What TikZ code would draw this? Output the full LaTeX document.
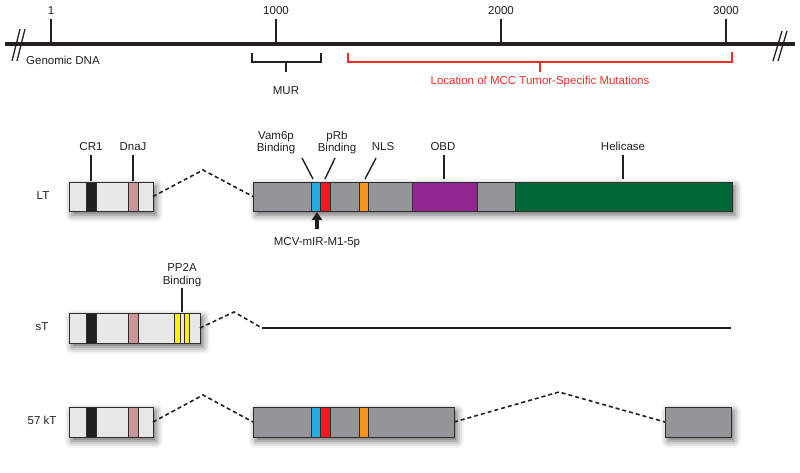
\documentclass[tikz,border=0pt]{standalone}
\usepackage{fontspec}
\setmainfont{Liberation Sans}
\usetikzlibrary{shadows.blur,arrows.meta}
\definecolor{ink}{RGB}{35,31,32}
\definecolor{lgray}{RGB}{231,231,232}
\definecolor{dgray}{RGB}{148,149,153}
\definecolor{pinkb}{RGB}{200,150,155}
\definecolor{blueb}{RGB}{39,170,225}
\definecolor{redb}{RGB}{237,28,36}
\definecolor{orangeb}{RGB}{247,148,29}
\definecolor{purpleb}{RGB}{146,39,143}
\definecolor{greenb}{RGB}{0,104,56}
\definecolor{yellowb}{RGB}{255,242,0}
\definecolor{mutred}{RGB}{236,48,40}
\definecolor{boxline}{RGB}{45,45,45}
\tikzset{
  lbl/.style={anchor=base, inner sep=0pt, text=ink},
  tickline/.style={draw=ink, line width=1.4pt},
  exon/.style={draw=boxline, line width=1pt, inner sep=0pt, outer sep=0pt,
    anchor=north west, minimum height=29pt,
    blur shadow={shadow xshift=3pt, shadow yshift=-4pt, shadow blur radius=7pt, shadow opacity=60}},
  band/.style={draw=boxline, line width=0.8pt},
  splice/.style={draw=ink, line width=1.6pt, dash pattern=on 4pt off 3pt},
}
\begin{document}
\begin{tikzpicture}[x=1pt,y=-1pt,font=\fontsize{11.5}{12.5}\selectfont]
\useasboundingbox (0,0) rectangle (800,472);

% ---------- genomic DNA ----------
\coordinate (gL) at (5,44);
\coordinate (gR) at (795,44);
\draw[draw=ink, line width=4.5pt] (gL) -- (gR);
\draw[draw=ink, line width=1.3pt] (12,61) -- (20,29) (17,61) -- (25,29);
\draw[draw=ink, line width=1.3pt] (773,61) -- (782,31) (778,61) -- (787,31);
\node[lbl, anchor=base west] (gdna) at (26,64) {Genomic DNA};

\foreach \xx/\tt/\nm in {51/1/a,276/1000/b,501/2000/c,726/3000/d}{
  \coordinate (tk\nm) at (\xx,44);
  \node[lbl] (tl\nm) at (\xx,14) {\tt};
  \draw[tickline] (tk\nm) -- (\xx,19);
}

% MUR bracket
\draw[tickline] (252,53) |- (321,62) -- (321,53);
\coordinate (murs) at (286,62);
\draw[tickline] (murs) -- (286,72);
\node[lbl] (mur) at (286,94) {MUR};

% mutation bracket
\draw[draw=mutred, line width=2pt] (348,53) |- (732,62) -- (732,52);
\coordinate (muts) at (540,62);
\draw[draw=mutred, line width=2pt] (muts) -- (540,72);
\node[lbl, text=mutred] (mutl) at (540,84) {Location of MCC Tumor-Specific Mutations};

% ---------- LT ----------
\node[lbl] (ltl) at (43,199) {LT};
\node[exon, fill=lgray, minimum width=84pt] (lt1) at (69,182) {};
\draw[band, fill=ink] (86,182) rectangle (96,211);
\draw[band, fill=pinkb] (128,182) rectangle (138,211);
\node[exon, fill=dgray, minimum width=479pt] (lt2) at (253,182) {};
\draw[band, fill=blueb] (311,182) rectangle (320,211);
\draw[band, fill=redb] (320,182) rectangle (330,211);
\draw[band, fill=orangeb] (359,182) rectangle (368,211);
\draw[band, fill=purpleb] (412,182) rectangle (477,211);
\draw[band, fill=greenb] (515,182) rectangle (732,211);
\coordinate (ltpk) at (203,170);
\draw[splice] (lt1.east) -- (ltpk) -- (lt2.west);

\node[lbl] (cr1) at (91,150) {CR1};
\draw[tickline] (91,155) -- (91,181);
\node[lbl] (dnaj) at (133,150) {DnaJ};
\draw[tickline] (133,155) -- (133,181);
\node[lbl] (vam1) at (276,139) {Vam6p};
\node[lbl] (vam2) at (276,151) {Binding};
\draw[tickline] (302,158) -- (313,179);
\node[lbl] (prb1) at (337,139) {pRb};
\node[lbl] (prb2) at (337,151) {Binding};
\draw[tickline] (335,158) -- (325,179);
\node[lbl] (nls) at (383,150) {NLS};
\draw[tickline] (376,158) -- (365,179);
\node[lbl] (obd) at (443,150) {OBD};
\draw[tickline] (444,155) -- (444,179);
\node[lbl] (hel) at (623,150) {Helicase};
\draw[tickline] (623,155) -- (623,179);

\coordinate (arrb) at (317,229);
\coordinate (arrt) at (317,212);
\draw[draw=ink, line width=3.5pt, -{Triangle[length=8pt,width=10pt]}] (arrb) -- (arrt);
\node[lbl] (mcv) at (317,245) {MCV-mIR-M1-5p};

% ---------- sT ----------
\node[lbl] (stl) at (42,330) {sT};
\node[exon, fill=lgray, minimum width=131pt, minimum height=30pt] (st1) at (69,313) {};
\draw[band, fill=ink] (86,313) rectangle (96,343);
\draw[band, fill=pinkb] (128,313) rectangle (138,343);
\draw[band, fill=yellowb] (174.5,313) rectangle (180,343);
\draw[band, fill=yellowb] (184,313) rectangle (189,343);
\node[lbl] (pp1) at (182,271) {PP2A};
\node[lbl] (pp2) at (182,284) {Binding};
\draw[tickline] (182,288) -- (182,312);
\coordinate (stpk) at (234,312);
\coordinate (sts) at (262,328);
\coordinate (ste) at (731,328);
\draw[splice] (st1.east) -- (stpk) -- (sts);
\draw[draw=ink, line width=1.3pt] (sts) -- (ste);

% ---------- 57 kT ----------
\node[lbl] (ktl) at (42,424) {57 kT};
\node[exon, fill=lgray, minimum width=84pt, minimum height=30pt] (k1) at (69,407) {};
\draw[band, fill=ink] (86,407) rectangle (96,437);
\draw[band, fill=pinkb] (128,407) rectangle (138,437);
\node[exon, fill=dgray, minimum width=201pt, minimum height=30pt] (k2) at (253,407) {};
\draw[band, fill=blueb] (311,407) rectangle (320,437);
\draw[band, fill=redb] (320,407) rectangle (330,437);
\draw[band, fill=orangeb] (359,407) rectangle (368,437);
\node[exon, fill=dgray, minimum width=66pt, minimum height=30pt] (k3) at (665,407) {};
\coordinate (kpk1) at (203,395);
\coordinate (kpk2) at (559,392);
\draw[splice] (k1.east) -- (kpk1) -- (k2.west);
\draw[splice] (k2.east) -- (kpk2) -- (k3.west);
\end{tikzpicture}
\end{document}
